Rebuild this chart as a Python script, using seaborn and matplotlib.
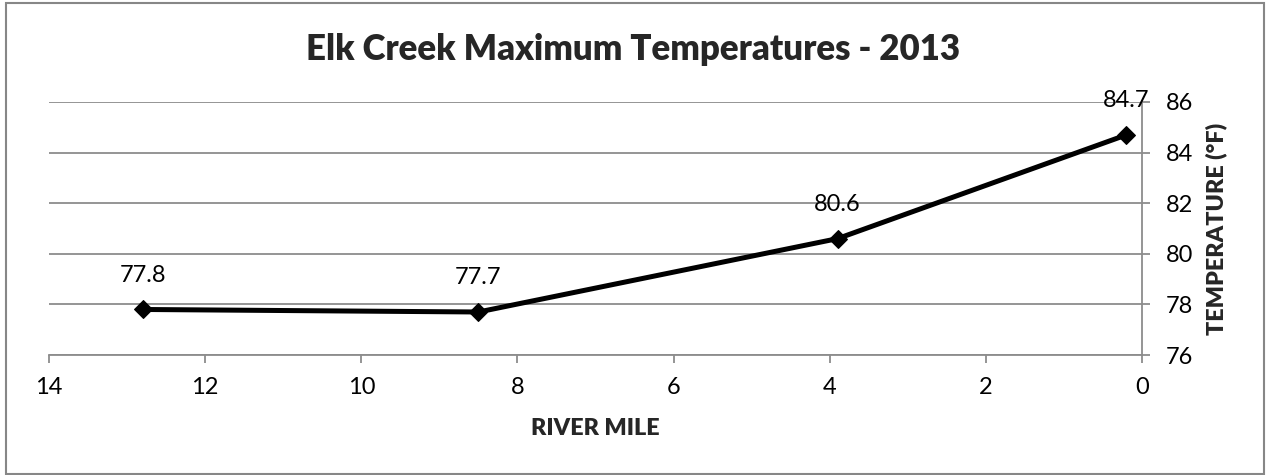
import matplotlib
matplotlib.use("Agg")
import matplotlib.pyplot as plt
import seaborn as sns
import pandas as pd
from matplotlib.patches import Rectangle

# Elk Creek maximum temperatures by river mile
river_mile = [12.8, 8.5, 3.9, 0.2]
max_temp = [77.8, 77.7, 80.6, 84.7]
x_ticks = [14, 12, 10, 8, 6, 4, 2, 0]
y_ticks = [76, 78, 80, 82, 84, 86]

df = pd.DataFrame({"mile": river_mile, "temp": max_temp})

sns.set_theme(style="white")
plt.rcParams["font.family"] = ["Lato", "DejaVu Sans"]

fig = plt.figure(figsize=(12.67, 4.75), dpi=100)
ax = fig.add_axes([0.0387, 0.2526, 0.8627, 0.5327])

grid_c = "#8c8c8c"
sns.lineplot(data=df, x="mile", y="temp", ax=ax, color="black", linewidth=3.6,
             marker="D", markersize=9.5, markeredgecolor="black", zorder=3)

ax.set_xlim(14, 0)
ax.set_ylim(76, 86)
ax.set_xticks(x_ticks)
ax.set_yticks(y_ticks)
ax.yaxis.tick_right()
ax.yaxis.set_label_position("right")
ax.grid(axis="y", color=grid_c, linewidth=1.3)
ax.grid(axis="x", visible=False)

for side in ["top", "left"]:
    ax.spines[side].set_visible(False)
for side in ["bottom", "right"]:
    ax.spines[side].set_color(grid_c)
    ax.spines[side].set_linewidth(1.3)

ax.tick_params(axis="x", direction="out", length=6, width=1.3, color=grid_c,
               labelsize=17, labelcolor="black", pad=10, bottom=True)
ax.tick_params(axis="y", direction="out", length=6, width=1.3, color=grid_c,
               labelsize=17, labelcolor="black", pad=11, right=True, left=False)

for x, y in zip(river_mile, max_temp):
    ax.annotate(f"{y:.1f}", (x, y), xytext=(0, 24.5), textcoords="offset points",
                ha="center", va="center", fontsize=17, color="black")

ax.set_xlabel("RIVER MILE", fontsize=16.8, fontweight="heavy", labelpad=14)
ax.set_ylabel("TEMPERATURE (°F)", fontsize=16.8, fontweight="heavy", labelpad=9)
fig.text(0.5, 0.895, "Elk Creek Maximum Temperatures - 2013", ha="center", va="center",
         fontsize=25, fontweight="heavy")

fig.patches.append(Rectangle((0.005, 0.002), 0.993, 0.992, transform=fig.transFigure,
                             fill=False, edgecolor="#878787", linewidth=1.5))

fig.savefig("out.png", dpi=100)
